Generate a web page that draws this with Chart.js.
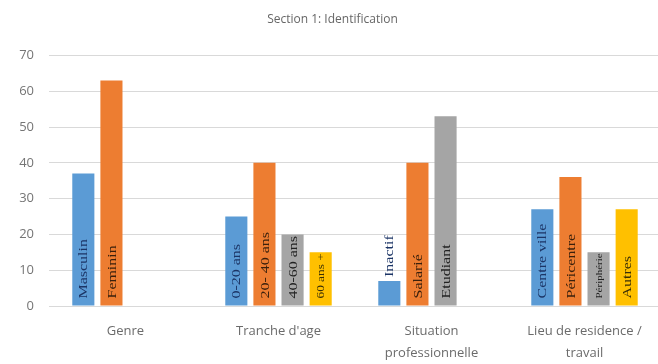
<!DOCTYPE html>
<html lang="fr">
<head>
<meta charset="utf-8">
<script src="https://cdn.jsdelivr.net/npm/chart.js@4/dist/chart.umd.min.js"></script>
<style>
  html, body { margin: 0; padding: 0; background: #fff; overflow: hidden; }
  #wrap { width: 658px; height: 364px; overflow: hidden; position: relative; }
  #box { width: 664px; height: 364px; position: absolute; left: 0; top: 0; }
</style>
</head>
<body>
<div id="wrap"><div id="box"><canvas id="c"></canvas></div></div>
<script>
// Categories (x axis), multi-line where the label wraps
const categories = ['Genre', "Tranche d'age", ['Situation', 'professionnelle'], ['Lieu de residence /', 'travail']];

// Values of the four clustered series (percent)
const serie1 = [37, 25, 7, 27];
const serie2 = [63, 40, 40, 36];
const serie3 = [null, 20, 53, 15];
const serie4 = [null, 15, null, 27];

// Text written inside each bar, per series
const labels1 = ['Masculin', '0-20 ans', 'Inactif', 'Centre ville'];
const labels2 = ['Feminin', '20- 40 ans', 'Salarié', 'Péricentre'];
const labels3 = [null, '40-60 ans', 'Etudiant', 'Périphérie'];
const labels4 = [null, '60 ans +', null, 'Autres'];

// Y axis ticks
const yTicks = [0, 10, 20, 30, 40, 50, 60, 70];

const colors = ['#5B9BD5', '#ED7D31', '#A5A5A5', '#FFC000'];
const textColors = ['#1c3566', '#3a200c', '#222222', '#3a2f05'];
const barTexts = [labels1, labels2, labels3, labels4];

// Draws the rotated category words inside the bars, from the base upward;
// a word that does not fit is shrunk, or set just above a very short bar
const barTextPlugin = {
  id: 'barText',
  afterDatasetsDraw(chart) {
    const ctx = chart.ctx;
    const stretch = 1.33;
    const pad = 7;
    const family = '"Liberation Serif", "Times New Roman", serif';
    chart.data.datasets.forEach((ds, di) => {
      const meta = chart.getDatasetMeta(di);
      meta.data.forEach((bar, i) => {
        const txt = barTexts[di][i];
        if (!txt || ds.data[i] == null) return;
        const p = bar.getProps(['x', 'y', 'base'], true);
        let size = 12;
        ctx.save();
        ctx.font = size + 'px ' + family;
        const len = ctx.measureText(txt).width * stretch;
        const avail = p.base - p.y - pad - 1;
        let startY = p.base - pad;
        if (len > avail) {
          const f = avail / len;
          if (f >= 0.6) {
            size = size * f;
            ctx.font = size + 'px ' + family;
          } else {
            startY = p.y - 4;
          }
        }
        ctx.translate(p.x, startY);
        ctx.rotate(-Math.PI / 2);
        ctx.scale(stretch, 1);
        ctx.fillStyle = textColors[di];
        ctx.textAlign = 'left';
        ctx.textBaseline = 'middle';
        ctx.fillText(txt, 0, 1);
        ctx.restore();
      });
    });
  }
};

const series = [serie1, serie2, serie3, serie4];

new Chart(document.getElementById('c'), {
  type: 'bar',
  data: {
    labels: categories,
    datasets: series.map((d, i) => ({
      label: 'Série ' + (i + 1),
      data: d,
      backgroundColor: colors[i],
      borderWidth: 0,
      categoryPercentage: 0.735,
      barPercentage: 0.786
    }))
  },
  options: {
    responsive: true,
    maintainAspectRatio: false,
    animation: false,
    layout: { padding: { left: 4, right: 3, top: 0, bottom: 0 } },
    plugins: {
      legend: { display: false },
      tooltip: { enabled: false },
      title: {
        display: true,
        text: 'Section 1: Identification',
        color: '#666666',
        font: { family: '"Open Sans", sans-serif', size: 12, weight: 'normal' },
        padding: { top: 12, bottom: 29 }
      }
    },
    scales: {
      x: {
        afterFit(scale) { scale.height = 58; },
        grid: { display: false },
        border: { display: false },
        ticks: {
          color: '#6b6b6b',
          font: { family: '"Open Sans", sans-serif', size: 13, lineHeight: 1.65 },
          padding: 7,
          maxRotation: 0,
          autoSkip: false
        }
      },
      y: {
        min: 0,
        max: 70,
        afterBuildTicks(scale) { scale.ticks = yTicks.map(v => ({ value: v })); },
        afterFit(scale) { scale.width = 45; },
        grid: { color: '#d9d9d9', lineWidth: 1, drawTicks: false },
        border: { display: false },
        ticks: {
          color: '#757575',
          font: { family: '"Open Sans", sans-serif', size: 13 },
          padding: 15
        }
      }
    }
  },
  plugins: [barTextPlugin]
});
</script>
</body>
</html>
